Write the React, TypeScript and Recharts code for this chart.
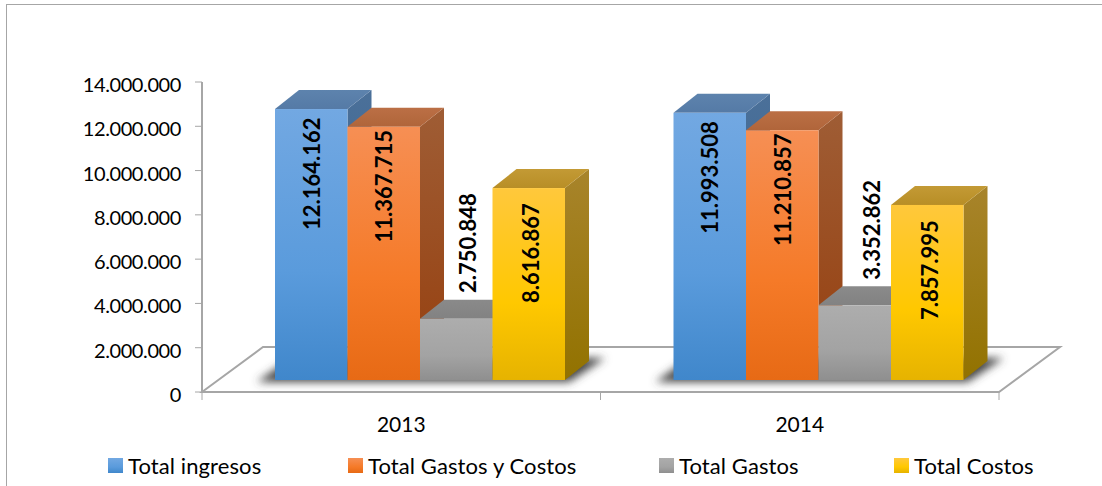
import React from 'react';
import {
  BarChart,
  Bar,
  XAxis,
  YAxis,
  Legend,
  LabelList,
  usePlotArea,
} from 'recharts';

const years = ['2013', '2014'];
const totalIngresos = [12164162, 11993508];
const totalGastosCostos = [11367715, 11210857];
const totalGastos = [2750848, 3352862];
const totalCostos = [8616867, 7857995];
const yTicks = [0, 2000000, 4000000, 6000000, 8000000, 10000000, 12000000, 14000000];

const chartData = years.map((year, i) => ({
  year,
  ingresos: totalIngresos[i],
  gastosCostos: totalGastosCostos[i],
  gastos: totalGastos[i],
  costos: totalCostos[i],
}));

// 3D box offsets, the front of the bars stands back from the axis line
const DEPTH_X = 24;
const DEPTH_Y = 19;
const LIFT = 12;
const SHIFT_X = 19;
const AXIS_COLOR = '#a6a6a6';
const FONT = 'Lato, "Open Sans", sans-serif';

const series = [
  { key: 'ingresos', name: 'Total ingresos', front: ['#72a8e2', '#5a9bdc', '#4087cb'], top: ['#5d83ad', '#557aa6'], side: ['#4b7099', '#2f5f90'], labelDx: [0, 0], labelDy: 63 },
  { key: 'gastosCostos', name: 'Total Gastos y Costos', front: ['#f68f54', '#f57a28', '#e76a15'], top: ['#bb6f45', '#b0653a'], side: ['#9f5d35', '#963f0e'], labelDx: [0, 0], labelDy: 58 },
  { key: 'gastos', name: 'Total Gastos', front: ['#adadad', '#a3a3a3', '#8f8f8f'], top: ['#8a8a8a', '#828282'], side: ['#6f6f6f', '#666666'], labelDx: [11, 17], labelDy: -76 },
  { key: 'costos', name: 'Total Costos', front: ['#ffc83c', '#ffc800', '#e6b300'], top: ['#c39a35', '#b88e26'], side: ['#a8842b', '#927200'], labelDx: [2, 2], labelDy: 64 },
];

const legendLefts = [108, 348, 659, 894];

const formatMiles = (v: number) => String(v).replace(/\B(?=(\d{3})+(?!\d))/g, '.');

// front, top and side face of one box
const Box3D = ({ x, y, width, height, index }: any) => {
  const left = x + SHIFT_X;
  const right = left + width;
  const bottom = y + height - LIFT;
  const top = bottom - height * 1.006;
  return (
    <g>
      <polygon
        points={`${right},${top} ${right + DEPTH_X},${top - DEPTH_Y} ${right + DEPTH_X},${bottom - DEPTH_Y} ${right},${bottom}`}
        fill={`url(#side-${index})`}
      />
      <polygon
        points={`${left},${top} ${left + DEPTH_X},${top - DEPTH_Y} ${right + DEPTH_X},${top - DEPTH_Y} ${right},${top}`}
        fill={`url(#top-${index})`}
      />
      <rect x={left} y={top} width={width} height={bottom - top} fill={`url(#front-${index})`} />
    </g>
  );
};

const shapeFor = (index: number) => (props: any) => <Box3D {...props} index={index} />;

const labelFor = (seriesIndex: number) => (props: any) => {
  const { x, y, width, value, index } = props;
  const s = series[seriesIndex];
  const cx = x + SHIFT_X + width / 2 + s.labelDx[index];
  const cy = y - LIFT + s.labelDy;
  return (
    <text
      x={cx}
      y={cy}
      transform={`rotate(-90 ${cx} ${cy})`}
      textAnchor="middle"
      dominantBaseline="central"
      fontFamily={FONT}
      fontWeight={700}
      fontSize={22}
      fill="#000"
    >
      {formatMiles(value)}
    </text>
  );
};

// floor of the 3D plot, with its band ticks and the soft shadow under each group
const Floor = () => {
  const plot = usePlotArea();
  if (!plot) return null;
  const bottom = plot.y + plot.height;
  const right = plot.x + plot.width;
  const band = plot.width / years.length;
  const floorDx = 61;
  const floorDy = 45;
  const groupInset = 73;
  const groupWidth = 290;
  return (
    <g>
      <defs>
        <filter id="floorBlur" x="-20%" y="-50%" width="140%" height="200%">
          <feGaussianBlur stdDeviation="4.5" />
        </filter>
      </defs>
      <polygon
        points={`${plot.x},${bottom} ${plot.x + floorDx},${bottom - floorDy} ${right + floorDx},${bottom - floorDy} ${right},${bottom}`}
        fill="#fff"
        stroke={AXIS_COLOR}
        strokeWidth={2}
      />
      {years.map((year, i) => {
        const gx = plot.x + band * i + groupInset;
        const by = bottom - LIFT;
        return (
          <polygon
            key={year}
            points={`${gx - 18},${by + 2} ${gx + groupWidth + 4},${by + 2} ${gx + groupWidth + 40},${by - 22} ${gx + 16},${by - 22}`}
            fill="#444"
            filter="url(#floorBlur)"
          />
        );
      })}
      {[0, 1, 2].map((i) => (
        <line
          key={i}
          x1={plot.x + band * i}
          x2={plot.x + band * i}
          y1={bottom}
          y2={bottom + 8}
          stroke={AXIS_COLOR}
          strokeWidth={1}
        />
      ))}
    </g>
  );
};

const LegendRow = () => (
  <div style={{ position: 'relative', top: -1, height: 40, fontFamily: FONT, fontSize: 22, letterSpacing: 0.1, color: '#000' }}>
    {series.map((s, i) => (
      <span
        key={s.key}
        style={{ position: 'absolute', left: legendLefts[i], top: 0, height: 40, display: 'flex', alignItems: 'center', whiteSpace: 'nowrap' }}
      >
        <span
          style={{
            display: 'inline-block',
            width: 15,
            height: 15,
            marginRight: 5,
            background: `linear-gradient(${s.front[0]}, ${s.front[1]} 60%, ${s.front[2]})`,
          }}
        />
        {s.name}
      </span>
    ))}
  </div>
);

const YTick = ({ x, y, payload }: any) => (
  <text x={x - 1} y={y + 2} textAnchor="end" dominantBaseline="central" fontFamily={FONT} fontSize={20} letterSpacing={-0.4} fill="#000">
    {formatMiles(payload.value)}
  </text>
);

const App = () => (
  <div style={{ position: 'absolute', left: 0, top: 0, width: 1102, height: 486, background: '#fff', overflow: 'hidden' }}>
    <div style={{ position: 'absolute', left: 6, top: 4, width: 1200, height: 600, border: `1px solid ${AXIS_COLOR}` }} />
    <BarChart
      width={1102}
      height={486}
      data={chartData}
      margin={{ top: 82, right: 103, bottom: 0, left: 0 }}
      barSize={72.5}
      barGap={0}
      style={{ position: 'absolute', left: 0, top: 0 }}
    >
      <defs>
        {series.map((s, i) => (
          <React.Fragment key={s.key}>
            <linearGradient id={`front-${i}`} x1="0" y1="0" x2="0" y2="1">
              <stop offset="0%" stopColor={s.front[0]} />
              <stop offset="60%" stopColor={s.front[1]} />
              <stop offset="100%" stopColor={s.front[2]} />
            </linearGradient>
            {(['top', 'side'] as const).map((face) => (
              <linearGradient key={face} id={`${face}-${i}`} x1="0" y1="0" x2="0" y2="1">
                <stop offset="0%" stopColor={s[face][0]} />
                <stop offset="100%" stopColor={s[face][1]} />
              </linearGradient>
            ))}
          </React.Fragment>
        ))}
      </defs>
      <Floor />
      <XAxis
        dataKey="year"
        height={54}
        axisLine={{ stroke: AXIS_COLOR, strokeWidth: 2 }}
        tickLine={false}
        tickMargin={19}
        tick={{ fontFamily: FONT, fontSize: 21, fill: '#000' }}
      />
      <YAxis
        width={202}
        domain={[0, 14000000]}
        ticks={yTicks}
        interval={0}
        axisLine={{ stroke: AXIS_COLOR, strokeWidth: 2 }}
        tickLine={{ stroke: AXIS_COLOR }}
        tickSize={7}
        tickMargin={13}
        tick={<YTick />}
      />
      <Legend
        verticalAlign="bottom"
        height={40}
        wrapperStyle={{ left: 0, width: 1102 }}
        content={() => <LegendRow />}
      />
      {series.map((s, i) => (
        <Bar key={s.key} dataKey={s.key} name={s.name} shape={shapeFor(i)} isAnimationActive={false}>
          <LabelList dataKey={s.key} content={labelFor(i)} />
        </Bar>
      ))}
    </BarChart>
  </div>
);

export default App;
